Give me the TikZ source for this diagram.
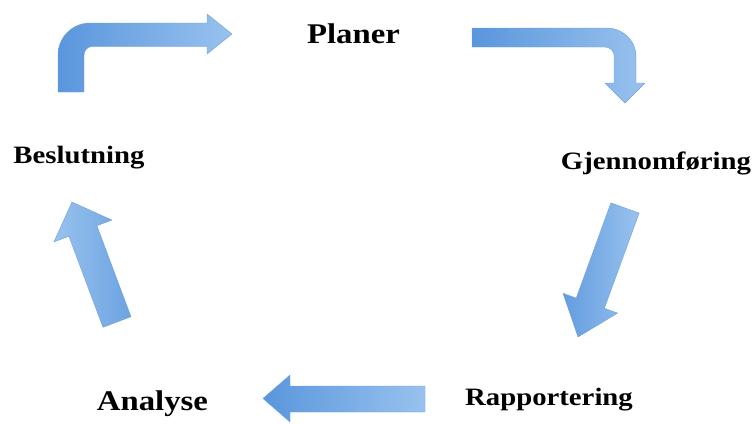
\documentclass[tikz,border=0pt]{standalone}
\usepackage{fontspec}
\newfontfamily\labfont[FakeStretch=1.15]{Liberation Serif}
\definecolor{arrowdark}{RGB}{90,150,220}
\definecolor{arrowlight}{RGB}{152,194,238}
\definecolor{arrowedge}{RGB}{112,160,215}
\tikzset{
	blockarrow/.style={left color=arrowdark, right color=arrowlight, draw=arrowedge, line width=0.4pt, line join=round},
	lab/.style={font=\labfont\bfseries\fontsize{25}{30}\selectfont, anchor=base, inner sep=0pt},
	biglab/.style={lab, font=\labfont\bfseries\fontsize{28.5}{34}\selectfont}
}
\begin{document}
\begin{tikzpicture}[x=1pt, y=-1pt, line join=round, line cap=round]
	\useasboundingbox (0,0) rectangle (752,423);
	% labels
	\node (planer) at (353.5,43) [biglab]{Planer};
	\node (beslutning) at (79,163) [lab]{Beslutning};
	\node (gjennomforing) at (656,169) [lab]{Gjennomføring};
	\node (rapportering) at (549,405) [lab]{Rapportering};
	\node (analyse) at (152.5,410) [biglab]{Analyse};
	% bent arrow, top left
	\path[blockarrow] (58,92) -- (58,55) .. controls (58,37.3) and (72.3,23) .. (90,23)
		-- (207,23) -- (207,14) -- (232,34) -- (207,54) -- (207,46.5)
		-- (92,46.5) .. controls (87.6,46.5) and (84,50.6) .. (84,55) -- (84,92) -- cycle;
	% bent arrow, top right
	\path[blockarrow] (472,28) -- (607,28) .. controls (622.5,28) and (636,40.5) .. (636,56)
		-- (636,83) -- (645,83) -- (625,103) -- (605,83) -- (614,83)
		-- (614,55) .. controls (614,50.6) and (609.4,47) .. (605,47) -- (472,47) -- cycle;
	% right
	\path[blockarrow, left color=arrowdark!85!arrowlight] (610.9,202.9) -- (639.1,213.1) -- (604.4,308.3) -- (617.6,313.1)
		-- (578,337) -- (563,293.3) -- (576.2,298.1) -- cycle;
	% bottom
	\path[blockarrow] (425,386) -- (290,386) -- (290,375) -- (263,398.5)
		-- (290,422) -- (290,412) -- (425,412) -- cycle;
	% left
	\path[blockarrow, right color=arrowdark!70!arrowlight, left color=arrowlight] (103,327.3) -- (68.9,236.3) -- (53.9,241.9) -- (72,202)
		-- (111.9,220.1) -- (96.9,225.7) -- (131,316.7) -- cycle;
\end{tikzpicture}
\end{document}
